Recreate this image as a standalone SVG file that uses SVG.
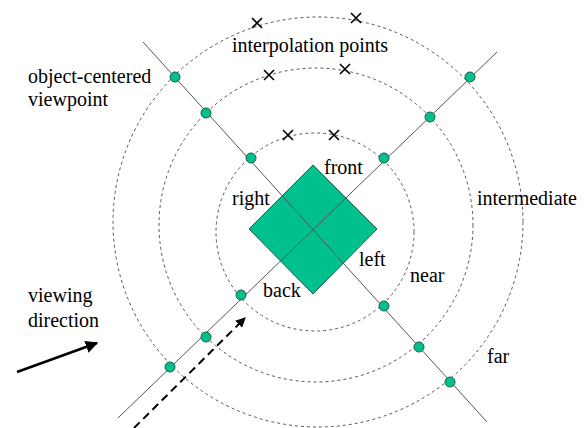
<svg xmlns="http://www.w3.org/2000/svg" width="586" height="428" viewBox="0 0 586 428">
<style>
.ring{fill:none;stroke:#555;stroke-width:1;stroke-dasharray:3,3}
.axis{fill:none;stroke:#555;stroke-width:1}
.dot{fill:#00c08e;stroke:#1d5e48;stroke-width:1}
.x{stroke:#000;stroke-width:1.6;fill:none}
text{font-family:"Liberation Serif","Times New Roman",serif;font-size:20px;fill:#000}
</style>
<defs>
<marker id="ah" viewBox="0 0 10 10" refX="9" refY="5" markerWidth="5" markerHeight="5" orient="auto" markerUnits="strokeWidth">
<path d="M0,0 L10,5 L0,10 z" fill="#000"/>
</marker>
</defs>
<rect width="586" height="428" fill="#fff"/>
<g id="rings">
<circle class="ring" cx="315" cy="232" r="99"/>
<circle class="ring" cx="316" cy="225" r="157"/>
<circle class="ring" cx="318" cy="222" r="205"/>
</g>
<g id="object">
<polygon points="313,165 377,229 313,294 249,229" fill="#00c08e" stroke="#1d5e48" stroke-width="1"/>
</g>
<g id="connectors">
<line class="axis" x1="143" y1="42" x2="487" y2="422"/>
<line class="axis" x1="118" y1="418" x2="497" y2="52"/>
<line x1="17" y1="372" x2="97" y2="343" stroke="#000" stroke-width="2.5" marker-end="url(#ah)"/>
<line x1="134" y1="428" x2="245" y2="318" stroke="#000" stroke-width="2" stroke-dasharray="8,5" marker-end="url(#ah)"/>
</g>
<g id="viewpoints">
<circle class="dot" cx="175" cy="77" r="5"/>
<circle class="dot" cx="206" cy="113" r="5"/>
<circle class="dot" cx="251" cy="158" r="5"/>
<circle class="dot" cx="384" cy="306" r="5"/>
<circle class="dot" cx="419" cy="347" r="5"/>
<circle class="dot" cx="450" cy="382" r="5"/>
<circle class="dot" cx="170" cy="367" r="5"/>
<circle class="dot" cx="206" cy="337" r="5"/>
<circle class="dot" cx="241" cy="295" r="5"/>
<circle class="dot" cx="384" cy="158" r="5"/>
<circle class="dot" cx="430" cy="117" r="5"/>
<circle class="dot" cx="470" cy="77" r="5"/>
</g>
<g id="interpolation">
<path class="x" d="M252,18 l10,10 M252,28 l10,-10"/>
<path class="x" d="M351,13 l10,10 M351,23 l10,-10"/>
<path class="x" d="M264,70 l10,10 M264,80 l10,-10"/>
<path class="x" d="M340,64 l10,10 M340,74 l10,-10"/>
<path class="x" d="M283,130 l10,10 M283,140 l10,-10"/>
<path class="x" d="M329,130 l10,10 M329,140 l10,-10"/>
</g>
<g id="labels">
<text x="232" y="52">interpolation points</text>
<text x="28" y="83">object-centered</text>
<text x="28" y="106">viewpoint</text>
<text x="324" y="174">front</text>
<text x="232" y="205">right</text>
<text x="359" y="266">left</text>
<text x="263" y="297">back</text>
<text x="410" y="282">near</text>
<text x="477" y="205">intermediate</text>
<text x="487" y="363">far</text>
<text x="28" y="302">viewing</text>
<text x="28" y="327">direction</text>
</g>
</svg>
